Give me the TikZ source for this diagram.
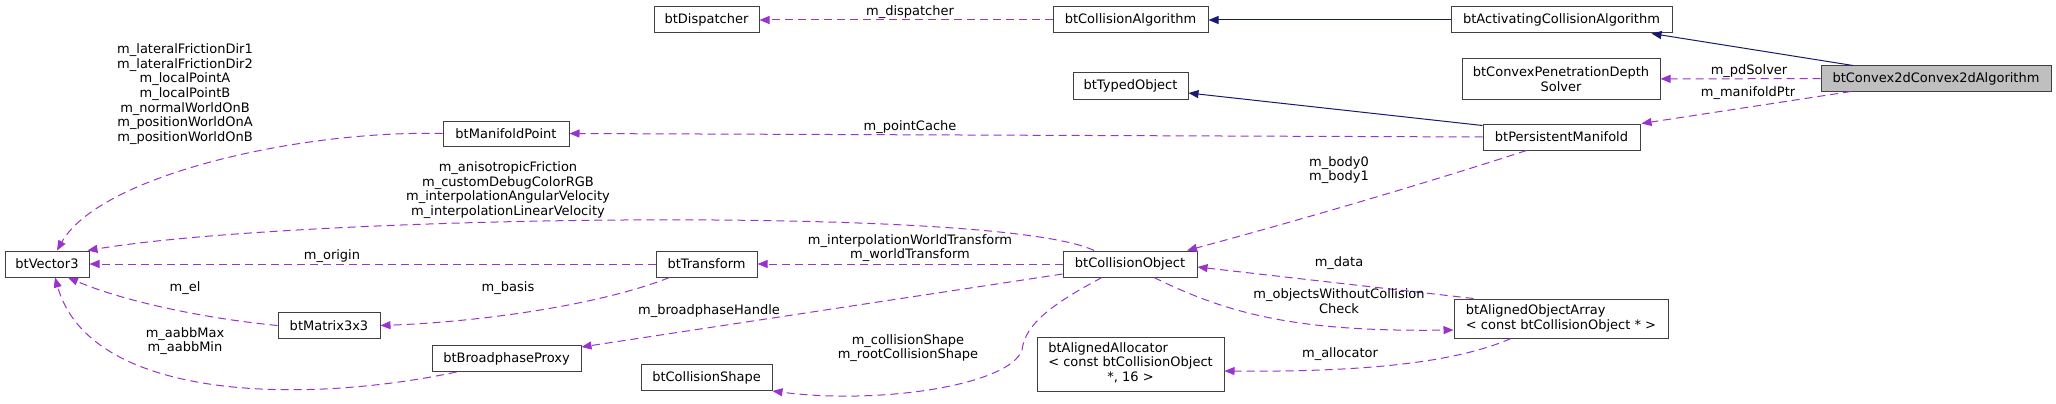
\documentclass[tikz,border=0pt]{standalone}
\usepackage{fontspec}
\setmainfont{DejaVu Sans}
\usetikzlibrary{arrows.meta, positioning, calc}
\definecolor{edgepurple}{RGB}{154,50,205}
\definecolor{edgeblue}{RGB}{25,25,112}
\definecolor{nodegray}{RGB}{191,191,191}

\begin{document}
\begin{tikzpicture}[x=1pt,y=-1pt,
    font=\fontsize{13}{14.7}\selectfont,
    cls/.style={draw=black!75,line width=1pt,fill=white,inner sep=0pt,minimum height=26pt,align=center},
    uses/.style={edgepurple,line width=1pt,dash pattern=on 8pt off 5pt,-{Triangle[length=10pt,width=8pt]}},
    isa/.style={edgeblue,line width=1pt,-{Triangle[length=10pt,width=8pt]}},
    lbl/.style={inner sep=0pt,align=center}]
    \useasboundingbox (0,0) rectangle (2056,404);
    % Classes
    \node[cls,minimum width=105pt] (disp) at (706.5,20) {btDispatcher};
    \node[cls,minimum width=155pt] (calg) at (1130.5,20) {btCollisionAlgorithm};
    \node[cls,minimum width=221pt] (acalg) at (1561.5,20) {btActivatingCollisionAlgorithm};
    \node[cls,minimum width=230pt,minimum height=25pt,fill=nodegray] (c2d) at (1936,78.5) {btConvex2dConvex2dAlgorithm};
    \node[cls,minimum width=198pt,minimum height=40pt] (pds) at (1561,79) {btConvexPenetrationDepth\\Solver};
    \node[cls,minimum width=115pt] (typed) at (1130.5,86) {btTypedObject};
    \node[cls,minimum width=157pt] (pman) at (1561.5,137) {btPersistentManifold};
    \node[cls,minimum width=126pt,minimum height=25pt] (mpt) at (506,133.5) {btManifoldPoint};
    \node[cls,minimum width=84pt] (vec) at (47,264) {btVector3};
    \node[cls,minimum width=101pt] (trans) at (706.5,264) {btTransform};
    \node[cls,minimum width=134pt] (cobj) at (1130,264) {btCollisionObject};
    \node[cls,minimum width=102pt] (mat) at (329,325.5) {btMatrix3x3};
    \node[cls,minimum width=149pt] (bproxy) at (506.5,358.5) {btBroadphaseProxy};
    \node[cls,minimum width=131pt] (cshape) at (706.5,377.5) {btCollisionShape};
    \node[cls,minimum width=187pt,minimum height=54pt] (alloc) at (1130.5,364) {\begin{tabular}{@{}l@{}}btAlignedAllocator\\< const btCollisionObject\\\multicolumn{1}{@{}c@{}}{*, 16 >}\end{tabular}};
    \node[cls,minimum width=214pt,minimum height=39pt,align=left] (oarr) at (1561,318.5) {btAlignedObjectArray\\< const btCollisionObject * >};
    % Inheritance
    \draw[isa] (acalg) -- (calg);
    \draw[isa] ([xshift=-83pt]c2d.north) -- ([xshift=90pt]acalg.south);
    \draw[isa] ([yshift=-2pt]pman.north west) -- ([yshift=-7pt]typed.east);
    % Members
    \draw[uses] (calg) -- (disp);
    \draw[uses] (c2d) -- (pds);
    \draw[uses] ([xshift=-85pt]c2d.south) -- ([xshift=80pt]pman.north);
    \draw[uses] (pman.west) -- (mpt.east);
    \draw[uses] ([xshift=-35pt]pman.south) .. controls (1420,185) and (1300,220) .. ([xshift=57pt]cobj.north);
    \draw[uses] (mpt.west) .. controls (300,130) and (100,175) .. ([xshift=10pt]vec.north);
    \draw[uses] ([xshift=-36pt]cobj.north) .. controls (1000,205) and (300,215) .. ([xshift=-2pt]vec.north east);
    \draw[uses] (cobj) -- (trans);
    \draw[uses] (trans) -- (vec);
    \draw[uses] ([xshift=-37pt]trans.south) .. controls (600,305) and (480,322) .. (mat.east);
    \draw[uses] (mat.west) .. controls (200,318) and (120,300) .. ([xshift=21pt]vec.south);
    \draw[uses] ([xshift=-50pt]bproxy.south) .. controls (300,405) and (90,400) .. ([xshift=8pt]vec.south);
    \draw[uses] ([yshift=-10pt]cobj.west) -- ([yshift=11.5pt]bproxy.east);
    \draw[uses] ([xshift=-28pt]cobj.south) .. controls (1050,305) and (1025,325) .. (1022,350) .. controls (1010,385) and (880,405) .. (cshape.south east);
    \draw[uses] ([xshift=20pt]oarr.north west) -- ([yshift=-3pt]cobj.east);
    \draw[uses] ([xshift=24pt]cobj.south) .. controls (1230,315) and (1300,332) .. ([yshift=-11.5pt]oarr.west);
    \draw[uses] ([xshift=-50pt]oarr.south) .. controls (1450,365) and (1350,372) .. ([yshift=-7pt]alloc.east);
    % Labels
    \node[lbl] (ldisp) at (910,12) {m\_dispatcher};
    \node[lbl] (lpds) at (1749,71) {m\_pdSolver};
    \node[lbl] (lmptr) at (1748,93) {m\_manifoldPtr};
    \node[lbl] (lcache) at (910,127) {m\_pointCache};
    \node[lbl] (lbody) at (1339,170) {m\_body0\\m\_body1};
    \node[lbl] (lpoint) at (185,94) {m\_lateralFrictionDir1\\m\_lateralFrictionDir2\\m\_localPointA\\m\_localPointB\\m\_normalWorldOnB\\m\_positionWorldOnA\\m\_positionWorldOnB};
    \node[lbl] (lfric) at (508,190) {m\_anisotropicFriction\\m\_customDebugColorRGB\\m\_interpolationAngularVelocity\\m\_interpolationLinearVelocity};
    \node[lbl] (lwt) at (910,248) {m\_interpolationWorldTransform\\m\_worldTransform};
    \node[lbl] (lorig) at (332,256) {m\_origin};
    \node[lbl] (lbasis) at (508,288) {m\_basis};
    \node[lbl] (lel) at (185,288) {m\_el};
    \node[lbl] (laabb) at (185,341) {m\_aabbMax\\m\_aabbMin};
    \node[lbl] (lbph) at (709,311) {m\_broadphaseHandle};
    \node[lbl] (lshape) at (908,348) {m\_collisionShape\\m\_rootCollisionShape};
    \node[lbl] (ldata) at (1339,263) {m\_data};
    \node[lbl] (lowc) at (1339,301) {m\_objectsWithoutCollision\\Check};
    \node[lbl] (lalloc) at (1340,354) {m\_allocator};
\end{tikzpicture}
\end{document}
